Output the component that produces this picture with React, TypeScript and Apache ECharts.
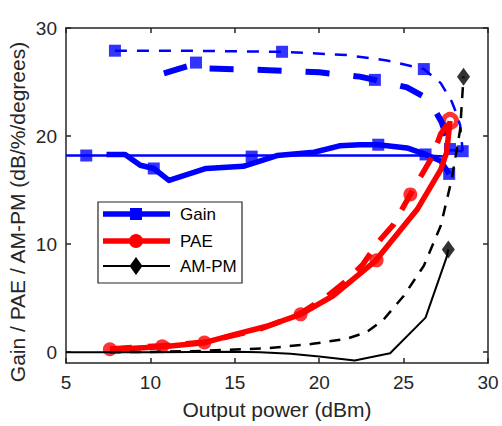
import React, { useEffect, useRef } from "react";
import * as echarts from "echarts";

const FONT = '"Liberation Sans", Arial, Helvetica, sans-serif';
const AXIS_COLOR = "#262626";

const xTicks = [5, 10, 15, 20, 25, 30];
const yTicks = [0, 10, 20, 30];

// Gain curves (dB)
const gainThickSolid = [[7.4, 18.3], [8.5, 18.3], [9.4, 17.3], [10.2, 17.0], [11.1, 15.9], [13.3, 17.0], [15.5, 17.2], [17.5, 18.2], [19.7, 18.5], [21.2, 19.1], [22.4, 19.2], [23.5, 19.2], [25.2, 18.9], [26.3, 18.3], [27.2, 17.7], [27.7, 16.5]];
const gainThinSolid = [[5, 18.2], [6.2, 18.2], [10, 18.2], [16, 18.2], [20, 18.2], [24, 18.2], [26.3, 18.2], [27.4, 18.1], [27.75, 18.7], [28.5, 18.6]];
const gainThinDash = [[7.9, 27.9], [12, 27.9], [17.8, 27.8], [21.6, 27.5], [24, 27.0], [26.2, 26.2], [27.2, 24.9], [27.85, 23.2], [28.1, 22.2], [28.35, 21.0], [28.5, 18.6]];
const gainThickDash = [[10.8, 25.8], [12.7, 26.7], [13.5, 26.25], [17, 26.1], [20, 25.9], [22.4, 25.5], [23.3, 25.2], [25.2, 24.5], [26.5, 23.4], [27.25, 21.3], [27.75, 19.0]];
const gainMarkers = [[7.9, 27.9], [12.7, 26.8], [17.8, 27.8], [23.3, 25.2], [26.2, 26.2], [6.2, 18.2], [10.2, 17.0], [16.0, 18.1], [23.5, 19.2], [26.3, 18.3], [27.75, 18.8], [28.5, 18.6], [27.7, 16.5]];

// PAE curves (%)
const paeSolid = [[7.6, 0.25], [10.7, 0.5], [13.2, 0.88], [14.9, 1.6], [16.9, 2.4], [18.9, 3.5], [20.8, 5.2], [23.3, 8.4], [25.8, 13.2], [27.2, 16.9], [27.55, 18.5], [27.75, 21.4]];
const paeDash = [[7.6, 0.3], [10.7, 0.6], [13.3, 0.95], [16.5, 2.15], [17.8, 2.9], [18.9, 3.6], [20.4, 5.1], [21.6, 6.6], [22.6, 8.15], [23.5, 10.2], [24.4, 11.8], [25.4, 14.6], [26.7, 18.1], [27.2, 20.2], [27.75, 21.4]];
const paeMarkers = [[7.6, 0.27], [10.7, 0.55], [13.2, 0.9], [18.9, 3.5], [23.4, 8.5], [25.4, 14.6]];
const paeOpenMarker = [[27.75, 21.4]];

// AM-PM curves (degrees)
const ampmSolid = [[5, 0], [10, 0], [15, 0.05], [16.5, 0], [18.3, -0.15], [20, -0.4], [22.1, -0.77], [24.2, -0.1], [26.3, 3.2], [27.55, 8.8], [27.65, 9.5]];
const ampmDash = [[7.6, 0], [10, 0.02], [13, 0.12], [16.9, 0.37], [19.5, 0.75], [21.6, 1.23], [22.8, 1.85], [23.8, 3.0], [25, 5.2], [26.2, 8.0], [27.2, 11.7], [27.85, 16], [28.35, 20.6], [28.55, 25.5]];
const ampmMarkers = [[27.65, 9.5], [28.55, 25.5]];

const legendItems = ["Gain", "PAE", "AM-PM"];

function lineSeries(data: number[][], color: string, width: number, type: any) {
  return {
    type: "line",
    data,
    showSymbol: false,
    symbol: "none",
    smooth: false,
    lineStyle: { color, width, type, cap: "butt", join: "round" },
    silent: true,
  };
}

export default function App() {
  const ref = useRef<HTMLDivElement>(null);
  useEffect(() => {
    if (!ref.current) return;
    const chart = echarts.init(ref.current, null, { renderer: "svg" });
    const blue = "#0000ff";
    const red = "#ff0000";
    const black = "#000000";

    const lgX = 98, lgY = 202, lgW = 144, lgH = 81;
    const rowsY = [214, 241, 266];
    const lineX1 = 103, lineX2 = 170, mX = 136;

    const graphic: any[] = [
      {
        type: "text",
        x: 17,
        y: 212,
        rotation: Math.PI / 2,
        style: {
          text: "Gain / PAE / AM-PM (dB/%/degrees)",
          fontSize: 21,
          fontFamily: FONT,
          fill: AXIS_COLOR,
          align: "center",
          verticalAlign: "middle",
        },
      },
      {
        type: "rect",
        shape: { x: lgX, y: lgY, width: lgW, height: lgH },
        style: { fill: "#fff", stroke: AXIS_COLOR, lineWidth: 1.2 },
        z: 100,
      },
      { type: "line", shape: { x1: lineX1, y1: rowsY[0], x2: lineX2, y2: rowsY[0] }, style: { stroke: blue, lineWidth: 5.5 }, z: 101 },
      { type: "rect", shape: { x: mX - 6, y: rowsY[0] - 6, width: 12, height: 12 }, style: { fill: blue }, z: 102 },
      { type: "line", shape: { x1: lineX1, y1: rowsY[1], x2: lineX2, y2: rowsY[1] }, style: { stroke: red, lineWidth: 5.5 }, z: 101 },
      { type: "circle", shape: { cx: mX, cy: rowsY[1], r: 7 }, style: { fill: red }, z: 102 },
      { type: "line", shape: { x1: lineX1, y1: rowsY[2], x2: lineX2, y2: rowsY[2] }, style: { stroke: black, lineWidth: 2 }, z: 101 },
      { type: "polygon", shape: { points: [[mX, rowsY[2] - 9], [mX + 6.5, rowsY[2]], [mX, rowsY[2] + 9], [mX - 6.5, rowsY[2]]] }, style: { fill: black }, z: 102 },
    ];
    legendItems.forEach((t, i) => {
      graphic.push({
        type: "text",
        x: 180,
        y: rowsY[i],
        style: { text: t, fontSize: 17, fontFamily: FONT, fill: "#000", align: "left", verticalAlign: "middle" },
        z: 103,
      });
    });

    const axisLineStyle = { color: AXIS_COLOR, width: 1.5 };

    chart.setOption({
      animation: false,
      backgroundColor: "#fff",
      grid: { left: 66, right: 14, top: 28, bottom: 63, containLabel: false },
      xAxis: [
        {
          type: "value",
          min: 5,
          max: 30,
          interval: 5,
          position: "bottom",
          axisLine: { show: true, onZero: false, lineStyle: axisLineStyle },
          axisTick: { show: true, inside: true, length: 5, lineStyle: axisLineStyle },
          axisLabel: { show: true, fontSize: 19, fontFamily: FONT, color: AXIS_COLOR, margin: 10, formatter: (v: number) => (xTicks.includes(v) ? String(v) : "") },
          splitLine: { show: false },
          name: "Output power (dBm)",
          nameLocation: "middle",
          nameGap: 36,
          nameTextStyle: { fontSize: 21, fontFamily: FONT, color: AXIS_COLOR },
        },
        {
          type: "value",
          min: 5,
          max: 30,
          interval: 5,
          position: "top",
          axisLine: { show: true, onZero: false, lineStyle: axisLineStyle },
          axisTick: { show: true, inside: true, length: 5, lineStyle: axisLineStyle },
          axisLabel: { show: false },
          splitLine: { show: false },
        },
      ],
      yAxis: [
        {
          type: "value",
          min: -1,
          max: 30,
          position: "left",
          axisLine: { show: true, onZero: false, lineStyle: axisLineStyle },
          axisTick: { show: true, inside: true, length: 5, lineStyle: axisLineStyle, customValues: yTicks },
          axisLabel: { show: true, fontSize: 19, fontFamily: FONT, color: AXIS_COLOR, margin: 9, customValues: yTicks },
          splitLine: { show: false },
        },
        {
          type: "value",
          min: -1,
          max: 30,
          position: "right",
          axisLine: { show: true, onZero: false, lineStyle: axisLineStyle },
          axisTick: { show: true, inside: true, length: 5, lineStyle: axisLineStyle, customValues: yTicks },
          axisLabel: { show: false, customValues: yTicks },
          splitLine: { show: false },
        },
      ],
      series: [
        lineSeries(gainThinSolid, blue, 2.5, "solid"),
        lineSeries(gainThinDash, blue, 2.5, [12, 10]),
        lineSeries(gainThickDash, blue, 6, [24, 24]),
        lineSeries(gainThickSolid, blue, 5.5, "solid"),
        {
          type: "scatter",
          data: gainMarkers,
          symbol: "rect",
          symbolSize: 12,
          itemStyle: { color: blue },
          silent: true,
        },
        lineSeries(paeDash, red, 5.5, [22, 16]),
        lineSeries(paeSolid, red, 5.5, "solid"),
        {
          type: "scatter",
          data: paeMarkers,
          symbol: "circle",
          symbolSize: 14,
          itemStyle: { color: red },
          silent: true,
        },
        {
          type: "scatter",
          data: paeOpenMarker,
          symbol: "circle",
          symbolSize: 13,
          itemStyle: { color: "#fff", borderColor: red, borderWidth: 5 },
          silent: true,
        },
        lineSeries(ampmSolid, black, 2, "solid"),
        lineSeries(ampmDash, black, 2.5, [11, 9]),
        {
          type: "scatter",
          data: ampmMarkers,
          symbol: "diamond",
          symbolSize: [13, 18],
          itemStyle: { color: black },
          silent: true,
        },
      ],
      graphic,
    });
    return () => chart.dispose();
  }, []);
  return <div ref={ref} style={{ width: 502, height: 426, position: "absolute", left: 0, top: 0 }} />;
}
